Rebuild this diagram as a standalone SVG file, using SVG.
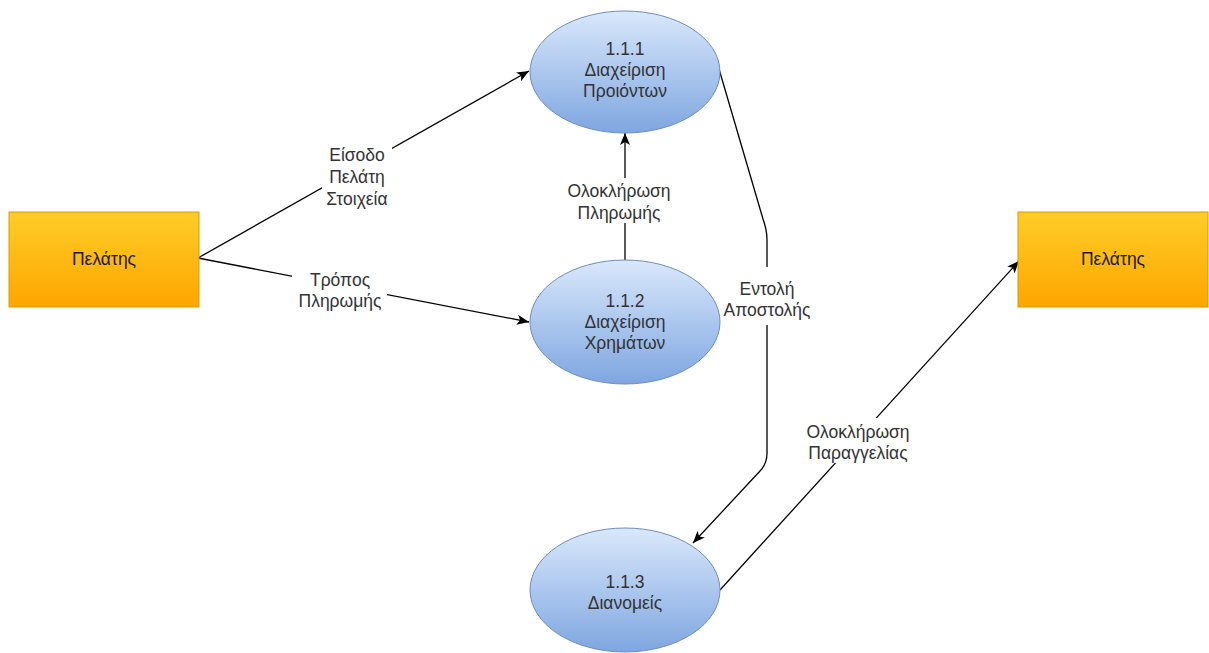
<svg xmlns="http://www.w3.org/2000/svg" width="1209" height="653" viewBox="0 0 1209 653">
  <defs>
    <linearGradient id="gradProcess" x1="0" y1="0" x2="0" y2="1">
      <stop offset="0" stop-color="#dae8fc"/>
      <stop offset="1" stop-color="#7ea6e0"/>
    </linearGradient>
    <linearGradient id="gradEntity" x1="0" y1="0" x2="0" y2="1">
      <stop offset="0" stop-color="#ffcd28"/>
      <stop offset="1" stop-color="#ffa500"/>
    </linearGradient>
    <marker id="arrow" viewBox="0 0 12 10" refX="12" refY="5" markerWidth="12" markerHeight="10" markerUnits="userSpaceOnUse" orient="auto">
      <path d="M0,0 L12,5 L0,10 L3,5 Z" fill="#000"/>
    </marker>
  </defs>
  <style>
    .process { fill: url(#gradProcess); stroke: #6c8ebf; stroke-width: 1; }
    .entity { fill: url(#gradEntity); stroke: #d79b00; stroke-width: 1; }
    .edge { fill: none; stroke: #000; stroke-width: 1.3; marker-end: url(#arrow); }
    .label-bg { fill: #fff; }
    text { font-family: "Liberation Sans", Arial, sans-serif; font-size: 17.5px; fill: #333; text-anchor: middle; }
    .entity-text { fill: #1a1a1a; }
  </style>

  <rect width="1209" height="653" fill="#fff"/>

  <!-- data flows -->
  <g id="connectors">
    <path class="edge" d="M198,258 L529,71"/>
    <path class="edge" d="M198,258 L529,322"/>
    <path class="edge" d="M625,260 L625,133"/>
    <path class="edge" d="M719,69 L763,219 Q767,230 767,240 L767,453 Q767,464 760,471 L693,543"/>
    <path class="edge" d="M720,590 L1019,261"/>

    <g id="label-eisodos">
      <rect class="label-bg" x="322" y="143" width="70" height="68"/>
      <text x="357" y="161">Είσοδο</text>
      <text x="357" y="183">Πελάτη</text>
      <text x="357" y="205">Στοιχεία</text>
    </g>
    <g id="label-tropos">
      <rect class="label-bg" x="292" y="266" width="95" height="46"/>
      <text x="340" y="286">Τρόπος</text>
      <text x="340" y="307">Πληρωμής</text>
    </g>
    <g id="label-plirwmi">
      <rect class="label-bg" x="563" y="178" width="112" height="45"/>
      <text x="619" y="197">Ολοκλήρωση</text>
      <text x="619" y="219">Πληρωμής</text>
    </g>
    <g id="label-entoli">
      <rect class="label-bg" x="720" y="267" width="95" height="58"/>
      <text x="767" y="295">Εντολή</text>
      <text x="767" y="316">Αποστολής</text>
    </g>
    <g id="label-paraggelia">
      <rect class="label-bg" x="801" y="418" width="114" height="45"/>
      <text x="858" y="438">Ολοκλήρωση</text>
      <text x="858" y="459">Παραγγελίας</text>
    </g>
  </g>

  <!-- external entities -->
  <g id="customer-left">
    <rect class="entity" x="9" y="212" width="190" height="95"/>
    <text class="entity-text" x="104" y="265">Πελάτης</text>
  </g>
  <g id="customer-right">
    <rect class="entity" x="1018" y="212" width="190" height="95"/>
    <text class="entity-text" x="1113" y="265">Πελάτης</text>
  </g>

  <!-- processes -->
  <g id="process-1-1-1">
    <ellipse class="process" cx="625" cy="72" rx="95" ry="61"/>
    <text x="625" y="55">1.1.1</text>
    <text x="625" y="76">Διαχείριση</text>
    <text x="625" y="97">Προιόντων</text>
  </g>
  <g id="process-1-1-2">
    <ellipse class="process" cx="625" cy="322" rx="95" ry="62"/>
    <text x="625" y="307">1.1.2</text>
    <text x="625" y="328">Διαχείριση</text>
    <text x="625" y="349">Χρημάτων</text>
  </g>
  <g id="process-1-1-3">
    <ellipse class="process" cx="625" cy="590" rx="95" ry="62"/>
    <text x="625" y="588">1.1.3</text>
    <text x="625" y="609">Διανομείς</text>
  </g>
</svg>
